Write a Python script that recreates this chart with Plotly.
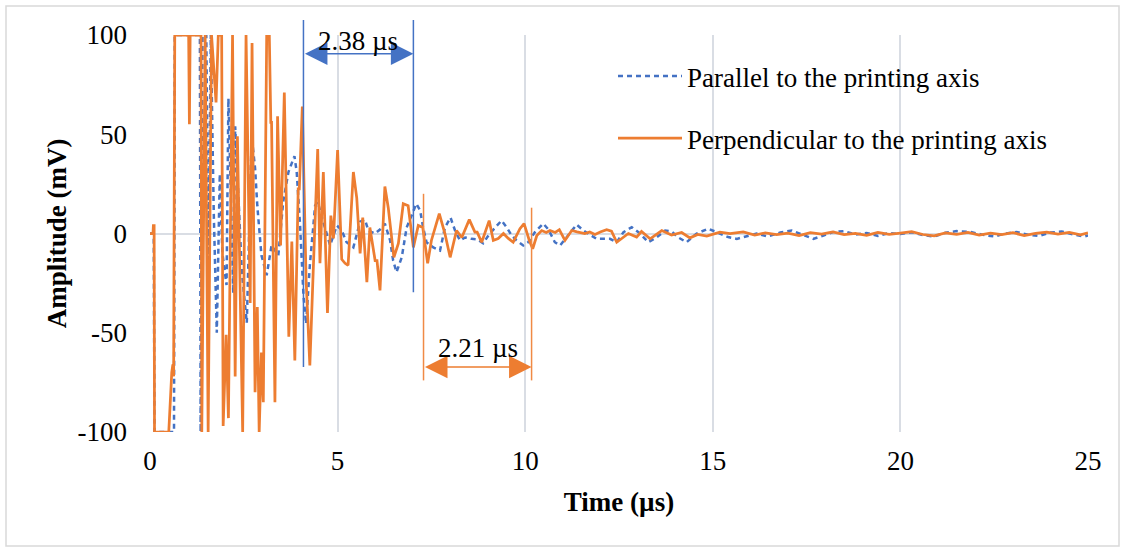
import plotly.graph_objects as go

# ---------------- data ----------------
time_parallel = [0, 0.10, 0.12, 0.64, 0.66, 1.33, 1.35, 1.40, 1.50, 1.56, 1.62, 1.70, 1.78, 1.86, 1.93,
                 2.04, 2.09, 2.17, 2.22, 2.27, 2.38, 2.45, 2.58, 2.71, 2.80, 2.86, 2.97, 3.11, 3.24, 3.42,
                 3.55, 3.69, 3.85, 3.91, 4.00, 4.09, 4.16, 4.26, 4.40, 4.47, 4.62, 4.80, 4.98, 5.10, 5.24,
                 5.42, 5.60, 5.73, 5.82, 6.00, 6.13, 6.26, 6.40, 6.48, 6.57, 6.71, 6.84, 6.97, 7.10, 7.20,
                 7.28, 7.37, 7.55, 7.73, 7.86, 8.01, 8.13, 8.26, 8.40, 8.57, 8.73, 8.88, 9.02, 9.20, 9.37,
                 9.51, 9.64, 9.77, 9.95, 10.08, 10.26, 10.48, 10.62, 10.79, 10.93, 11.10, 11.24, 11.37,
                 11.55, 11.73, 11.90, 12.08, 12.26, 12.44, 12.62, 12.84, 13.06, 13.28, 13.50, 13.73, 13.90,
                 14.08, 14.30, 14.57, 14.88, 15.10, 15.41, 15.64, 15.90, 16.17, 16.45, 16.80, 17.10, 17.40,
                 17.68, 17.95, 18.20, 18.50, 18.80, 19.10, 19.40, 19.70, 20.00, 20.30, 20.60, 20.90, 21.20,
                 21.50, 21.86, 22.20, 22.50, 22.80, 23.10, 23.40, 23.70, 24.00, 24.30, 24.60, 24.90, 25.00]
amp_parallel = [0, 0, -100, -100, 100, 100, -100, 100, 100, -20, 100, 10, -50, 30, -10,
                -26, 68, 10, -30, 54, 11, -20, -45, 49, 33, 14, -11, -21, -6, -11,
                16, 31, 39, 31, 4, -31, -45.5, -16, 14, 16, 5.7, -6, 4, 2, -4.4,
                -7, 6, 7, 1.5, 0, 2, 5, -3.5, -13.6, -19.5, -12, 3, 9, 15, 11.6,
                3, -4.4, -7, -8.6, 3, 8, 1.5, -3.5, -2, -2.7, -3, -4.9, -1, 3, 6.5,
                3, -1, -3.5, -6, -4.4, 0.7, 5, 2, -4.4, -6, -2, 1.5, 4.5,
                1.5, -0.7, -2.7, -2.7, -2.7, -4.4, 0.7, 3.2, 0, -4.4, -2, 1.5, 1,
                -2, -4.4, 0, 2.4, 0.7, -1.8, -2.7, -1.5, 0, -1.5, 0.5, 1.5, -0.5,
                -2.7, -1, 0.7, 1.2, -0.5, 0.3, -1.2, 0.2, -0.3, 0.6, -0.8, -1.5, 0.4,
                1.2, 0.8, -0.7, -1.5, 0, 0.8, -0.6, -1.2, 0.5, 1.0, -0.5, -1.5, -1.0]

time_perpendicular = [0, 0.08, 0.09, 0.11, 0.12, 0.50, 0.58, 0.61, 0.63, 0.66, 1.03, 1.05, 1.07, 1.36,
                      1.38, 1.47, 1.55, 1.64, 1.76, 1.82, 1.91, 1.95, 2.03, 2.09, 2.20, 2.27, 2.33, 2.47,
                      2.56, 2.67, 2.72, 2.80, 2.86, 2.91, 2.97, 3.02, 3.11, 3.18, 3.22, 3.24, 3.33, 3.40,
                      3.48, 3.58, 3.70, 3.78, 3.86, 3.95, 3.98, 4.06, 4.16, 4.26, 4.35, 4.47, 4.53, 4.62,
                      4.73, 4.82, 4.89, 5.00, 5.11, 5.20, 5.28, 5.42, 5.51, 5.60, 5.67, 5.78, 5.86, 6.00,
                      6.05, 6.13, 6.26, 6.35, 6.50, 6.62, 6.75, 6.88, 7.02, 7.15, 7.27, 7.40, 7.50, 7.71,
                      7.86, 8.00, 8.17, 8.31, 8.51, 8.66, 8.72, 8.84, 9.04, 9.15, 9.28, 9.42, 9.55, 9.68,
                      9.86, 9.97, 10.11, 10.20, 10.31, 10.44, 10.56, 10.66, 10.80, 10.91, 11.06, 11.24,
                      11.38, 11.59, 11.72, 11.86, 12.00, 12.17, 12.30, 12.44, 12.75, 12.97, 13.10, 13.33,
                      13.64, 13.90, 14.17, 14.39, 14.60, 14.84, 15.19, 15.46, 15.81, 16.12, 16.40, 16.70,
                      17.00, 17.30, 17.60, 17.90, 18.20, 18.50, 18.80, 19.10, 19.40, 19.70, 20.00, 20.30,
                      20.60, 20.90, 21.20, 21.50, 21.80, 22.10, 22.40, 22.70, 23.00, 23.30, 23.60, 23.90,
                      24.20, 24.50, 24.80, 25.00]
amp_perpendicular = [0, 0, 4, 4, -100, -100, -70, -66, -72, 100, 100, 55, 100, 100,
                     -100, 100, -100, 100, 66, 100, 100, -97, -51, -93, 100, -72, 49, -100,
                     100, -35, 96, -80, -37, -100, -60, -85, 100, 100, 56, 56, -85, 59,
                     -6, 71, -52, -4, -64, 22.5, 22.5, 64, -23, -66.5, -19, 42.6, -15, 31,
                     -40, 9, -2.5, 42, -13, -15, -16, 31, 18, -10, 8, -24.5, 3, -13.6,
                     -13.6, -28.7, 23.7, 13, -12, -5, 15, 14, -7, 4, 3, -15, -3.5, 10,
                     0, -12, 1.5, -2, 7, 0.7, 0.7, -4.4, 6.5, -3.5, -2.5, 0, -2.5, -4.4,
                     2.4, 5, -3.5, -7.7, -1, 1.5, 0.5, 1.5, 0.5, 1.9, -3.5, 1.5,
                     0.8, 0, 0.8, -0.5, 0.8, 1.9, 1.2, -4.4, 0, -1.8, 1, -2.7,
                     1.5, -0.8, 0.5, -2.2, -0.5, -1.3, 0.7, 0, 0.8, -0.8, 0.3, -0.5,
                     0.2, -1.0, 0.4, -0.3, 0.8, -0.6, 0.1, -0.9, 0.5, -0.4, 0.2, 0.9,
                     -0.5, -1.2, 0.3, -0.4, 0.6, -0.8, 0.2, -0.6, 0.4, -1.0, 0.1, 0.7,
                     -0.3, 0.5, -0.7, 0.3]

series_names = ["Parallel to the printing axis", "Perpendicular to the printing axis"]

# annotation markers (time in µs, amplitude in mV)
blue_marker_t = [4.09, 7.02]
blue_marker_bottom = [-67.3, -29.6]
blue_arrow_y = 90.5
blue_label = "2.38 µs"
orange_marker_t = [7.29, 10.17]
orange_marker_top = [20, 13]
orange_marker_bottom = -74
orange_arrow_y = -67.3
orange_label = "2.21 µs"

x_ticks = [0, 5, 10, 15, 20, 25]
x_tick_text = ["0", "5", "10", "15", "20", "25"]
y_ticks = [-100, -50, 0, 50, 100]
y_tick_text = ["-100", "-50", "0", "50", "100"]

# ---------------- style ----------------
BLUE = "#4472C4"
ORANGE = "#ED7D31"
GRID = "#D9DDE4"
FONT = "Liberation Serif"
FS = 27

W, H = 1125, 552
L, R, T, B = 150, 37, 35, 120
XR = [0, 25]
YR = [-100, 100]


def px_to_paper_x(px):
    return (px - L) / (W - L - R)


def px_to_paper_y(py):
    return (H - B - py) / (H - B - T)


def y_to_paper(v):
    return (v - YR[0]) / (YR[1] - YR[0])


def t_to_paper(t):
    return (t - XR[0]) / (XR[1] - XR[0])


fig = go.Figure()
fig.add_trace(go.Scatter(x=time_parallel, y=amp_parallel, mode="lines", name=series_names[0],
                         legendgroup="a",
                         line=dict(color=BLUE, width=2.5, dash="5px,4px")))
fig.add_trace(go.Scatter(x=time_perpendicular, y=amp_perpendicular, mode="lines", name=series_names[1],
                         legendgroup="b",
                         line=dict(color=ORANGE, width=2.75)))

shapes = []
# outer chart border
shapes.append(dict(type="rect", xref="paper", yref="paper",
                   x0=px_to_paper_x(6), x1=px_to_paper_x(1119),
                   y0=px_to_paper_y(546), y1=px_to_paper_y(6),
                   line=dict(color="#D9D9D9", width=1.5), layer="below"))
# blue marker lines (extend above plot area)
top_blue_paper = px_to_paper_y(20)
for t, yb in zip(blue_marker_t, blue_marker_bottom):
    shapes.append(dict(type="line", xref="paper", yref="paper",
                       x0=t_to_paper(t), x1=t_to_paper(t),
                       y0=y_to_paper(yb), y1=top_blue_paper,
                       line=dict(color=BLUE, width=1.5)))
for t, yt in zip(orange_marker_t, orange_marker_top):
    shapes.append(dict(type="line", xref="paper", yref="paper",
                       x0=t_to_paper(t), x1=t_to_paper(t),
                       y0=y_to_paper(orange_marker_bottom), y1=y_to_paper(yt),
                       line=dict(color="#F08A45", width=1.5)))
fig.update_layout(shapes=shapes)

# double-headed arrows
fig.add_annotation(x=blue_marker_t[1], y=blue_arrow_y, ax=blue_marker_t[0], ay=blue_arrow_y,
                   xref="x", yref="y", axref="x", ayref="y", text="", showarrow=True,
                   arrowhead=2, startarrowhead=2, arrowside="end+start", arrowsize=3,
                   startarrowsize=3, arrowwidth=1.5, arrowcolor=BLUE, standoff=0, startstandoff=0)
fig.add_annotation(x=orange_marker_t[1], y=orange_arrow_y, ax=orange_marker_t[0], ay=orange_arrow_y,
                   xref="x", yref="y", axref="x", ayref="y", text="", showarrow=True,
                   arrowhead=2, startarrowhead=2, arrowside="end+start", arrowsize=3,
                   startarrowsize=3, arrowwidth=1.5, arrowcolor=ORANGE, standoff=0, startstandoff=0)
fig.add_annotation(x=(blue_marker_t[0] + blue_marker_t[1]) / 2, y=blue_arrow_y, xref="x", yref="y",
                   text=blue_label, showarrow=False, yanchor="bottom", yshift=-4,
                   font=dict(family=FONT, size=FS, color="black"))
fig.add_annotation(x=(orange_marker_t[0] + orange_marker_t[1]) / 2, y=orange_arrow_y, xref="x", yref="y",
                   text=orange_label, showarrow=False, yanchor="bottom", yshift=2,
                   font=dict(family=FONT, size=FS, color="black"))

fig.update_layout(
    width=W, height=H,
    margin=dict(l=L, r=R, t=T, b=B),
    paper_bgcolor="white", plot_bgcolor="white",
    font=dict(family=FONT, size=FS, color="black"),
    showlegend=True,
    legend=dict(x=px_to_paper_x(613), y=px_to_paper_y(52), xanchor="left", yanchor="top",
                bgcolor="rgba(0,0,0,0)", font=dict(family=FONT, size=FS, color="black"),
                tracegroupgap=24, itemwidth=64),
    xaxis=dict(range=XR, tickvals=x_ticks, ticktext=x_tick_text, showgrid=True, gridcolor=GRID,
               gridwidth=1.5, zeroline=False, showline=False, ticks="", ticklabelstandoff=10,
               title=dict(text="<b>Time (µs)</b>", font=dict(family=FONT, size=FS), standoff=17),
               tickfont=dict(family=FONT, size=FS)),
    yaxis=dict(range=YR, tickvals=y_ticks, ticktext=y_tick_text, showgrid=False, zeroline=True,
               zerolinecolor=GRID, zerolinewidth=1.5, showline=False, ticks="", ticklabelstandoff=22,
               title=dict(text="<b>Amplitude (mV)</b>", font=dict(family=FONT, size=FS), standoff=3),
               tickfont=dict(family=FONT, size=FS)),
)

fig.write_html("out.html", config={"displayModeBar": False},
               post_script="document.body.style.margin='0';document.body.style.overflow='hidden';")
